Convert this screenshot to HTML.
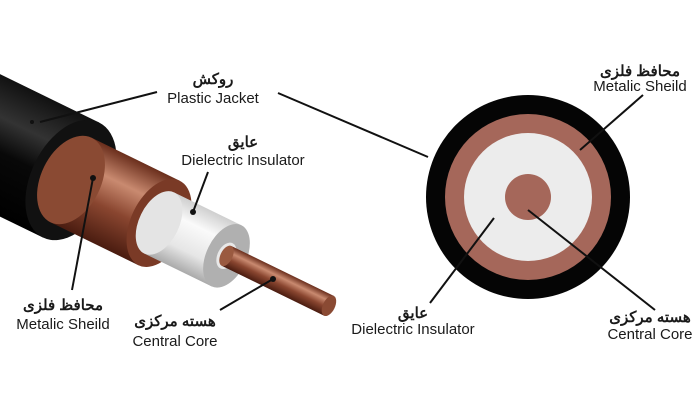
<!DOCTYPE html>
<html><head><meta charset="utf-8"><style>
html,body{margin:0;padding:0;background:#fff;}
svg{display:block;}
text{font-family:"Liberation Sans","Noto Sans CJK SC",sans-serif;fill:#1a1a1a;text-anchor:middle;}
.fa{font-weight:bold;font-size:15px;}
.en{font-size:15px;}
</style></head><body>
<svg width="700" height="400" viewBox="0 0 700 400" xmlns="http://www.w3.org/2000/svg">
<defs>
<linearGradient id="jk" x1="0" y1="0" x2="0" y2="1"><stop offset="0" stop-color="#111"/><stop offset="0.3" stop-color="#333"/><stop offset="0.55" stop-color="#080808"/><stop offset="1" stop-color="#000"/></linearGradient>
<linearGradient id="cu" x1="0" y1="0" x2="0" y2="1"><stop offset="0" stop-color="#6a2e1c"/><stop offset="0.3" stop-color="#c98a70"/><stop offset="0.6" stop-color="#8a4630"/><stop offset="1" stop-color="#4a1c10"/></linearGradient>
<linearGradient id="wh" x1="0" y1="0" x2="0" y2="1"><stop offset="0" stop-color="#cfcfcf"/><stop offset="0.3" stop-color="#fafafa"/><stop offset="0.7" stop-color="#e6e6e6"/><stop offset="1" stop-color="#aaa"/></linearGradient>
</defs>
<g transform="translate(71,180) rotate(26)">
  <rect x="-300" y="-64" width="300" height="128" fill="url(#jk)"/>
  <ellipse cx="0" cy="0" rx="40" ry="64" fill="#111"/>
  <rect x="0" y="-47" width="98" height="94" fill="url(#cu)"/>
  <ellipse cx="0" cy="0" rx="30" ry="47" fill="#8a4a33"/>
  <ellipse cx="98" cy="0" rx="28" ry="47" fill="#7a3a26"/>
  <rect x="98" y="-34" width="75" height="68" fill="url(#wh)"/>
  <ellipse cx="98" cy="0" rx="20" ry="34" fill="#e4e4e4"/>
  <ellipse cx="173" cy="0" rx="20" ry="34" fill="#b0b0b0"/>
  <ellipse cx="173" cy="0" rx="9" ry="14" fill="#e8e8e8"/>
  <rect x="173" y="-11" width="114" height="22" fill="url(#cu)"/>
  <ellipse cx="173" cy="0" rx="6" ry="11" fill="#9a5a40"/>
  <ellipse cx="287" cy="0" rx="6" ry="11" fill="#8a4a33"/>
</g>
<circle cx="528" cy="197" r="102" fill="#050505"/>
<circle cx="528" cy="197" r="83" fill="#a5675a"/>
<circle cx="528" cy="197" r="64" fill="#ececec"/>
<circle cx="528" cy="197" r="23" fill="#a5675a"/>
<g stroke="#111" stroke-width="2" fill="none">
  <line x1="157" y1="92" x2="40" y2="122"/>
  <line x1="278" y1="93" x2="428" y2="157"/>
  <line x1="208" y1="172" x2="193" y2="212"/>
  <line x1="93" y1="178" x2="72" y2="290"/>
  <line x1="273" y1="279" x2="220" y2="310"/>
  <line x1="643" y1="95" x2="580" y2="150"/>
  <line x1="430" y1="303" x2="494" y2="218"/>
  <line x1="528" y1="210" x2="655" y2="310"/>
</g>
<g fill="#111"><circle cx="32" cy="122" r="2"/><circle cx="93" cy="178" r="3"/><circle cx="193" cy="212" r="3"/><circle cx="273" cy="279" r="3"/></g>
<text class="fa" x="213" y="84">روکش</text>
<text class="en" x="213" y="103">Plastic Jacket</text>
<text class="fa" x="243" y="147">عایق</text>
<text class="en" x="243" y="165">Dielectric Insulator</text>
<text class="fa" x="63" y="310">محافظ فلزی</text>
<text class="en" x="63" y="329">Metalic Sheild</text>
<text class="fa" x="175" y="326">هسته مرکزی</text>
<text class="en" x="175" y="346">Central Core</text>
<text class="fa" x="640" y="76">محافظ فلزی</text>
<text class="en" x="640" y="91">Metalic Sheild</text>
<text class="fa" x="413" y="318">عایق</text>
<text class="en" x="413" y="334">Dielectric Insulator</text>
<text class="fa" x="650" y="322">هسته مرکزی</text>
<text class="en" x="650" y="339">Central Core</text>
</svg>
</body></html>
